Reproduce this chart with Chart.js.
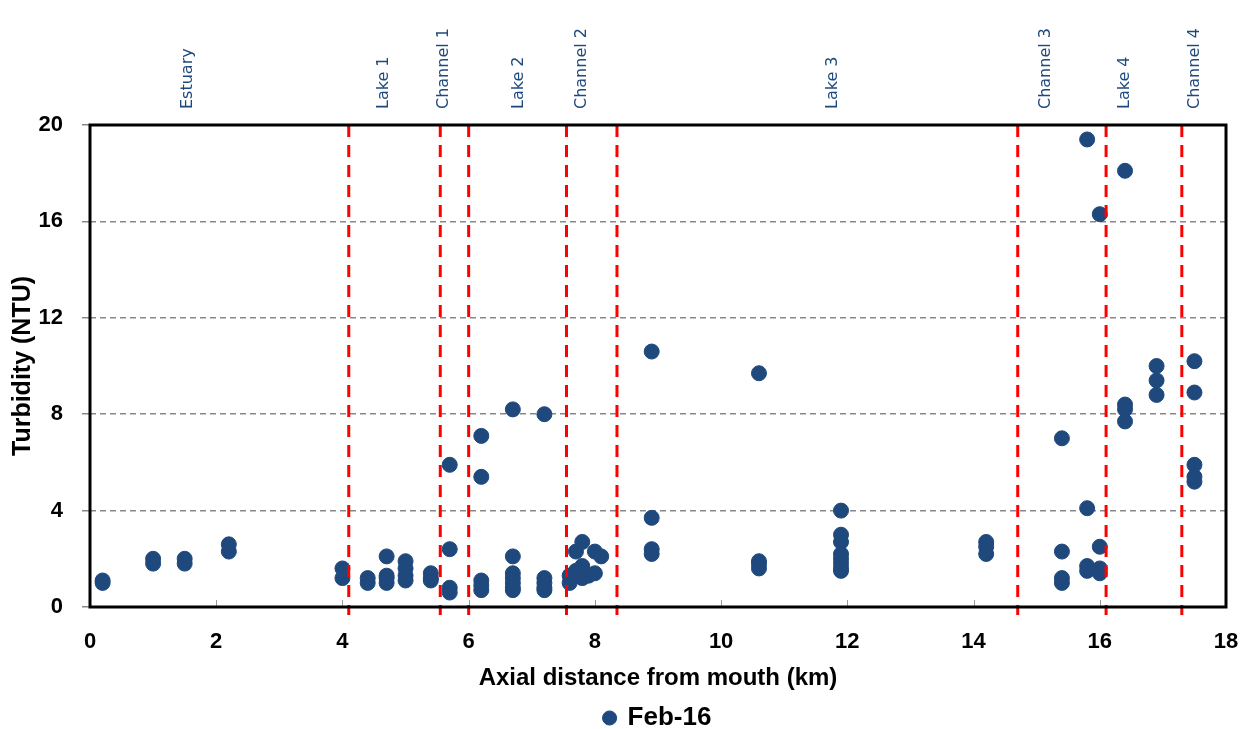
<!DOCTYPE html>
<html>
<head>
<meta charset="utf-8">
<script src="https://cdn.jsdelivr.net/npm/chart.js@4.4.1/dist/chart.umd.min.js"></script>
<style>
  html, body { margin: 0; padding: 0; background: #fff; }
  #wrap { width: 1250px; height: 729px; }
</style>
</head>
<body>
<div id="wrap"><canvas id="chart"></canvas></div>
<script>
// sampling points: axial distance (km) and turbidity (NTU)
const distKm = [
  0.2, 0.2,
  1.0, 1.0,
  1.5, 1.5,
  2.2, 2.2,
  4.0, 4.0,
  4.4, 4.4,
  4.7, 4.7, 4.7, 4.7,
  5.0, 5.0, 5.0, 5.0,
  5.4, 5.4, 5.4,
  5.7, 5.7, 5.7, 5.7,
  6.2, 6.2, 6.2, 6.2, 6.2,
  6.7, 6.7, 6.7, 6.7, 6.7, 6.7, 6.7,
  7.2, 7.2, 7.2, 7.2, 7.2,
  7.6, 7.6,
  7.7, 7.7, 7.7,
  7.8, 7.8, 7.8, 7.8,
  7.9,
  8.0, 8.0,
  8.1,
  8.9, 8.9, 8.9, 8.9,
  10.6, 10.6, 10.6, 10.6,
  11.9, 11.9, 11.9, 11.9, 11.9, 11.9, 11.9, 11.9,
  14.2, 14.2, 14.2,
  15.4, 15.4, 15.4, 15.4,
  15.8, 15.8, 15.8, 15.8,
  16.0, 16.0, 16.0, 16.0,
  16.4, 16.4, 16.4, 16.4,
  16.9, 16.9, 16.9,
  17.5, 17.5, 17.5, 17.5, 17.5
];
const turbidity = [
  1.1, 1.0,
  2.0, 1.8,
  2.0, 1.8,
  2.6, 2.3,
  1.6, 1.2,
  1.2, 1.0,
  2.1, 1.3, 1.2, 1.0,
  1.9, 1.6, 1.3, 1.1,
  1.4, 1.2, 1.1,
  5.9, 2.4, 0.8, 0.6,
  7.1, 5.4, 1.1, 0.9, 0.7,
  8.2, 2.1, 1.4, 1.2, 1.0, 0.8, 0.7,
  8.0, 1.2, 1.0, 0.8, 0.7,
  1.3, 1.0,
  2.3, 1.5, 1.3,
  2.7, 1.7, 1.4, 1.2,
  1.3,
  2.3, 1.4,
  2.1,
  10.6, 3.7, 2.4, 2.2,
  9.7, 1.9, 1.8, 1.6,
  4.0, 3.0, 2.7, 2.2, 2.0, 1.8, 1.6, 1.5,
  2.7, 2.5, 2.2,
  7.0, 2.3, 1.2, 1.0,
  19.4, 4.1, 1.7, 1.5,
  16.3, 2.5, 1.6, 1.4,
  18.1, 8.4, 8.2, 7.7,
  10.0, 9.4, 8.8,
  10.2, 8.9, 5.9, 5.4, 5.2
];

// reach boundaries (red dashed lines) and reach names
const boundaryKm = [4.1, 5.55, 6.0, 7.55, 8.35, 14.7, 16.1, 17.3];
const regionNames = ["Estuary", "Lake 1", "Channel 1", "Lake 2", "Channel 2", "Lake 3", "Channel 3", "Lake 4", "Channel 4"];
const regionKm = [1.55, 4.65, 5.6, 6.8, 7.8, 11.77, 15.15, 16.4, 17.5];

const xTicks = [0, 2, 4, 6, 8, 10, 12, 14, 16, 18];
const yTicks = [0, 4, 8, 12, 16, 20];

const points = distKm.map((d, i) => ({ x: d, y: turbidity[i] }));

const reachPlugin = {
  id: "reaches",
  afterLayout(chart) {
    // center the legend under the plot area rather than the whole canvas
    if (chart.legend) {
      chart.legend.left = chart.chartArea.left;
      chart.legend.right = chart.chartArea.right;
    }
  },
  beforeDatasetsDraw(chart) {
    const { ctx, chartArea: a, scales } = chart;
    ctx.save();
    // small x tick marks inside the frame
    ctx.strokeStyle = "#999";
    ctx.lineWidth = 1;
    xTicks.forEach(v => {
      const px = Math.round(scales.x.getPixelForValue(v)) + 0.5;
      ctx.beginPath();
      ctx.moveTo(px, a.bottom);
      ctx.lineTo(px, a.bottom - 7);
      ctx.stroke();
    });
    ctx.restore();
  },
  afterDatasetsDraw(chart) {
    const { ctx, chartArea: a, scales } = chart;
    ctx.save();
    ctx.strokeStyle = "#FF0000";
    ctx.lineWidth = 3;
    ctx.setLineDash([12, 8]);
    boundaryKm.forEach(k => {
      const px = scales.x.getPixelForValue(k);
      ctx.beginPath();
      ctx.moveTo(px, a.top);
      ctx.lineTo(px, a.bottom + 8);
      ctx.stroke();
    });
    ctx.setLineDash([]);
    // frame
    ctx.strokeStyle = "#000";
    ctx.lineWidth = 3;
    ctx.strokeRect(a.left, a.top, a.right - a.left, a.bottom - a.top);
    // reach names
    ctx.fillStyle = "#1F497D";
    ctx.font = "16px 'DejaVu Sans'";
    ctx.textAlign = "left";
    ctx.textBaseline = "middle";
    regionNames.forEach((name, i) => {
      const px = scales.x.getPixelForValue(regionKm[i]);
      ctx.save();
      ctx.translate(px, a.top - 16);
      ctx.rotate(-Math.PI / 2);
      ctx.fillText(name, 0, 0);
      ctx.restore();
    });
    ctx.restore();
  }
};

new Chart(document.getElementById("chart"), {
  type: "scatter",
  data: {
    datasets: [
      {
        label: "Feb-16",
        data: points,
        backgroundColor: "#1F497D",
        borderColor: "#1F497D",
        pointRadius: 7.5,
        pointHoverRadius: 7.5,
      },
    ],
  },
  options: {
    responsive: true,
    maintainAspectRatio: false,
    animation: false,
    layout: {
      padding: { top: 125, right: 24, left: 0, bottom: -12 },
    },
    plugins: {
      tooltip: { enabled: false },
      legend: {
        position: "bottom",
        labels: {
          usePointStyle: true,
          pointStyle: "circle",
          boxWidth: 10,
          boxHeight: 10,
          color: "#000",
          padding: 2,
          font: { family: "'Liberation Sans'", size: 26, weight: "bold" },
        },
      },
    },
    scales: {
      x: {
        type: "linear",
        min: 0,
        max: 18,
        afterBuildTicks: (s) => { s.ticks = xTicks.map(v => ({ value: v })); },
        afterFit: (s) => { s.height = 96; s.paddingLeft = 0; s.paddingRight = 0; },
        grid: { display: false, drawTicks: false },
        border: { display: false },
        ticks: {
          color: "#000",
          padding: 22,
          font: { family: "'Liberation Sans'", size: 22, weight: "bold" },
        },
        title: {
          display: true,
          text: "Axial distance from mouth (km)",
          color: "#000",
          padding: { top: 0, bottom: 10 },
          font: { family: "'Liberation Sans'", size: 24, weight: "bold" },
        },
      },
      y: {
        min: 0,
        max: 20,
        afterBuildTicks: (s) => { s.ticks = yTicks.map(v => ({ value: v })); },
        afterFit: (s) => { s.width = 90; },
        grid: {
          color: "#888",
          lineWidth: 1.5,
          tickLength: 8,
        },
        border: { display: false, dash: [6, 4] },
        ticks: {
          color: "#000",
          padding: 19,
          font: { family: "'Liberation Sans'", size: 22, weight: "bold" },
        },
        title: {
          display: true,
          text: "Turbidity (NTU)",
          color: "#000",
          padding: { top: 8, bottom: 0 },
          font: { family: "'Liberation Sans'", size: 25, weight: "bold" },
        },
      },
    },
  },
  plugins: [reachPlugin],
});
</script>
</body>
</html>
